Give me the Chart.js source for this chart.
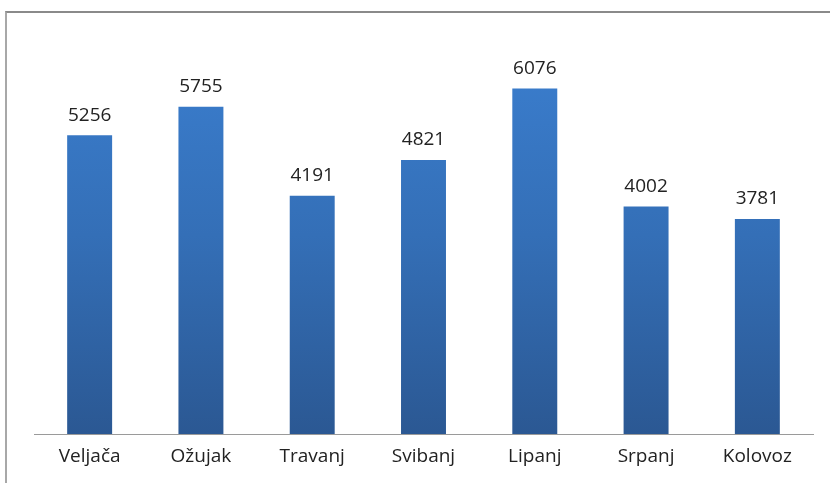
<!DOCTYPE html>
<html>
<head>
<meta charset="utf-8">
<script src="https://cdn.jsdelivr.net/npm/chart.js@4/dist/chart.umd.min.js"></script>
<style>
    html, body { margin: 0; padding: 0; background: #fff; overflow: hidden; }
    #wrap { position: relative; width: 830px; height: 483px; }
    #frame {
        position: absolute; left: 5px; top: 11px; width: 900px; height: 600px;
        border-top: 2px solid #8a8a8a; border-left: 2px solid #a8a8a8;
    }
    canvas { position: absolute; left: 0; top: 0; }
</style>
</head>
<body>
<div id="wrap">
    <div id="frame"></div>
    <canvas id="chart" width="830" height="483"></canvas>
</div>
<script>
// ===== DATA =====
const months = ['Veljača', 'Ožujak', 'Travanj', 'Svibanj', 'Lipanj', 'Srpanj', 'Kolovoz'];
const values = [5256, 5755, 4191, 4821, 6076, 4002, 3781];
const yMax = 7000;

const FONT = "'Open Sans', 'Noto Sans', sans-serif";

// Excel-style bar fill: lighter blue at top, darker at bottom
function barFill(context) {
    const chart = context.chart;
    const area = chart.chartArea;
    if (!area) return '#3a7ccc';
    const g = chart.ctx.createLinearGradient(0, area.top, 0, area.bottom);
    g.addColorStop(0, '#3b7fd0');
    g.addColorStop(0.5, '#346fb7');
    g.addColorStop(1, '#2b5893');
    return g;
}

// Value labels above each bar
const valueLabels = {
    id: 'valueLabels',
    afterDatasetsDraw(chart) {
        const ctx = chart.ctx;
        const meta = chart.getDatasetMeta(0);
        ctx.save();
        ctx.font = '19px ' + FONT;
        ctx.fillStyle = '#222';
        ctx.textAlign = 'center';
        ctx.textBaseline = 'middle';
        meta.data.forEach((bar, i) => {
            ctx.fillText(String(values[i]), bar.x, bar.y - 20);
        });
        ctx.restore();
    }
};

new Chart(document.getElementById('chart'), {
    type: 'bar',
    data: {
        labels: months,
        datasets: [{
            data: values,
            backgroundColor: barFill,
            borderWidth: 0,
            barPercentage: 0.404,
            categoryPercentage: 1
        }]
    },
    options: {
        responsive: false,
        animation: false,
        layout: { padding: { left: 34, right: 17, top: 36, bottom: 10 } },
        plugins: {
            legend: { display: false },
            tooltip: { enabled: false }
        },
        scales: {
            y: {
                display: false,
                min: 0,
                max: yMax
            },
            x: {
                grid: { display: false, drawTicks: false },
                border: { display: true, color: '#9a9a9a', width: 1 },
                ticks: {
                    color: '#222',
                    padding: 11,
                    font: { family: FONT, size: 19 }
                },
                afterFit(axis) { axis.height = 39; }
            }
        }
    },
    plugins: [valueLabels]
});
</script>
</body>
</html>
